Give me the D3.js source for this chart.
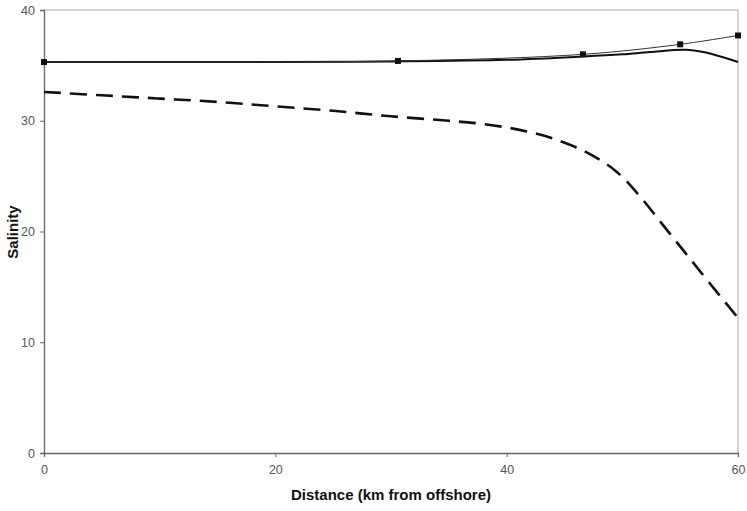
<!DOCTYPE html>
<html><head><meta charset="utf-8">
<script src="https://cdn.jsdelivr.net/npm/d3@7"></script>
<style>body{margin:0;background:#fff}svg{display:block}</style>
</head><body><svg id="c" width="747" height="511"></svg>
<script>
const xTicks = [0, 20, 40, 60];
const yTicks = [0, 10, 20, 30, 40];
// thin line with square markers
const markedKm = [0, 30.6, 46.6, 55.0, 60];
const markedSal = [35.3, 35.4, 36.0, 36.9, 37.7];
// thick solid line
const solidKm = [0, 20, 30, 40, 46.6, 50, 52.4, 55.5, 57, 60];
const solidSal = [35.3, 35.3, 35.35, 35.5, 35.8, 36.0, 36.2, 36.4, 36.2, 35.3];
// dashed line
const dashKm = [0, 5, 10, 15, 20, 25, 30, 35, 38, 41, 44, 47, 49.5, 51.5, 53.5, 55.5, 57.5, 60];
const dashSal = [32.6, 32.3, 32.0, 31.7, 31.3, 30.9, 30.4, 30.0, 29.7, 29.2, 28.4, 27.1, 25.4, 23.2, 20.6, 18.0, 15.4, 12.2];

const svg = d3.select("#c");
const L = 44, R = 738, T = 10, B = 453;
const x = d3.scaleLinear().domain([0, 60]).range([L, R]);
const y = d3.scaleLinear().domain([0, 40]).range([B, T]);
const font = "Liberation Sans, Arial, sans-serif";

// frame top/right
svg.append("line").attr("x1", L).attr("x2", R).attr("y1", T).attr("y2", T).attr("stroke", "#aaa").attr("stroke-width", 1);
svg.append("line").attr("x1", R).attr("x2", R).attr("y1", T).attr("y2", B).attr("stroke", "#aaa").attr("stroke-width", 1);

const xAxis = svg.append("g").attr("transform", `translate(0,${B})`)
  .call(d3.axisBottom(x).tickValues(xTicks).tickSize(4).tickPadding(8).tickFormat(d3.format("d")));
const yAxis = svg.append("g").attr("transform", `translate(${L},0)`)
  .call(d3.axisLeft(y).tickValues(yTicks).tickSize(4).tickPadding(5).tickFormat(d3.format("d")));
[xAxis, yAxis].forEach(g => {
  g.select(".domain").attr("stroke", "#666").attr("stroke-width", 1.3);
  g.selectAll(".tick line").attr("stroke", "#666");
  g.selectAll(".tick text").attr("fill", "#555").attr("font-family", font).attr("font-size", 12.5);
});

const line = d3.line().curve(d3.curveCatmullRom.alpha(0.5)).x(d => x(d[0])).y(d => y(d[1]));
const zip = (a, b) => a.map((v, i) => [v, b[i]]);

svg.append("path").datum(zip(dashKm, dashSal)).attr("d", line)
  .attr("fill", "none").attr("stroke", "#111").attr("stroke-width", 2.6).attr("stroke-dasharray", "17,9");
svg.append("path").datum(zip(solidKm, solidSal)).attr("d", line)
  .attr("fill", "none").attr("stroke", "#111").attr("stroke-width", 2);
svg.append("path").datum(zip(markedKm, markedSal)).attr("d", line)
  .attr("fill", "none").attr("stroke", "#333").attr("stroke-width", 1);
svg.selectAll("rect.m").data(zip(markedKm, markedSal)).join("rect").attr("class", "m")
  .attr("x", d => x(d[0]) - 3).attr("y", d => y(d[1]) - 3).attr("width", 6).attr("height", 6).attr("fill", "#111");

svg.append("text").attr("x", 391).attr("y", 500).attr("text-anchor", "middle")
  .attr("font-family", font).attr("font-weight", "bold").attr("font-size", 15).attr("fill", "#111")
  .text("Distance (km from offshore)");
svg.append("text").attr("transform", "translate(18,232) rotate(-90)").attr("text-anchor", "middle")
  .attr("font-family", font).attr("font-weight", "bold").attr("font-size", 15).attr("fill", "#111")
  .text("Salinity");
</script></body></html>
